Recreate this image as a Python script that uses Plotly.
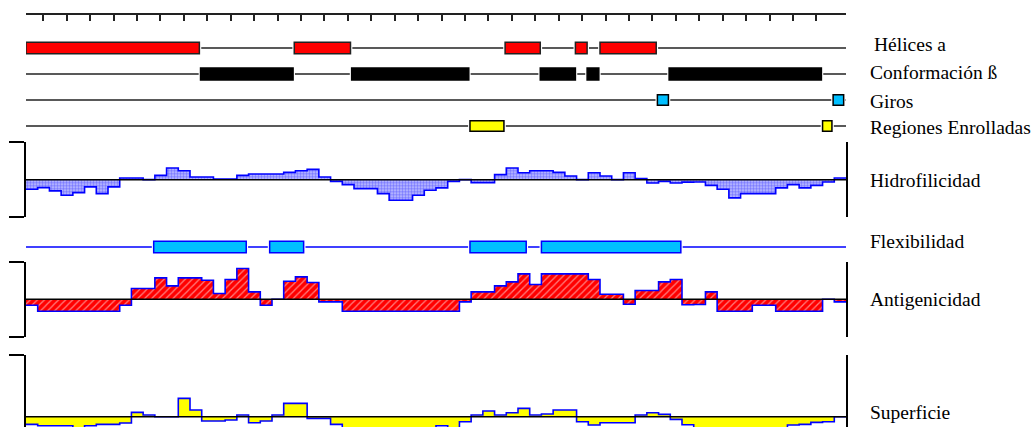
import plotly.graph_objects as go
import numpy as np

# ---------------- data (residue units, 0..350; profiles in 5-residue bins) -------------
LENGTH = 350
BIN = 5

HELIX_START = [0, 114.5, 204.5, 234.5, 245]
HELIX_END = [74, 138.5, 219.5, 239.5, 269]

BETA_START = [74.5, 139, 219.5, 239.5, 274.5]
BETA_END = [114, 189, 234.5, 244.5, 339.5]

TURN_START = [269.5, 344.5]
TURN_END = [274.2, 349]

COIL_START = [189.5, 340]
COIL_END = [204, 344]

FLEX_START = [54.5, 104, 189.5, 220]
FLEX_END = [94, 118.5, 213.5, 279.5]

HYDRO = [-9.7, -8, -11.3, -15.7, -13, -7.3, -14, -7.3, 1.7, 1.7,
         0, 4.3, 11.7, 9, 2.7, 2.7, 0.7, 0.7, 4.3, 5.7,
         5.7, 5.7, 7.3, 9, 10.3, 2.7, -1.7, -5, -9, -9,
         -14, -20.7, -20.7, -15.7, -10.7, -8.3, -1.7, 0, -3, -3,
         5, 11.7, 7, 9, 9, 7.3, 3.7, 0, 7, 3.7,
         0, 7, 1, -3.3, -1.7, -3.3, -2.5, -2.3, -5.7, -9.7,
         -18.3, -14, -14, -14, -8.3, -5, -8.3, -5.7, -2.3, 1.7]

ANTIGEN = [-6, -12, -12, -12, -12, -12, -12, -12, -6, 10.7,
           10.7, 21.3, 13.3, 21.3, 21.3, 19, 5.7, 19.7, 30.7, 7.3,
           -6, 0, 18, 22.3, 16.7, -2.7, -2.7, -12, -12, -12,
           -12, -12, -12, -12, -12, -12, -12, -2.7, 7.3, 7.3,
           13.3, 17.3, 25.3, 14.7, 25.3, 25.3, 25.3, 25.3, 19.7, 5,
           5, -5, 8.7, 8.7, 17.3, 19.7, -5.5, -5.3, 7.3, -12,
           -12, -12, -6, -6, -12, -12, -12, -12, 0, -2.7]

SURFACE = [-7.7, -9, -9, -9, -12, -9, -7.7, -7.7, -6.3, 4.3,
           1.7, 0, 0, 18.3, 6.7, -4.3, -4.3, -3.3, 1.7, -6,
           -4.3, 1.7, 13.3, 13.3, -1.7, -1.7, -7.7, -11, -15, -15,
           -15, -15, -15, -15, -15, -9, -12, -5, 1.7, 5.7,
           1.7, 4, 8.3, 1.7, 2.7, 6.7, 6.7, -5, -8.3, -6,
           -6, -6, 1.7, 4, 2.3, -2.7, -8, -12, -12, -12,
           -12, -12, -12, -12, -12, -8.3, -7.7, -5.7, -5, 0]

LABELS = ["Hélices a", "Conformación ß", "Giros", "Regiones Enrolladas",
          "Hidrofilicidad", "Flexibilidad", "Antigenicidad", "Superficie"]

# ---------------- layout helpers ----------------
W, H = 1035, 427
def py(px):
    return 1 - px / H

FONT = "Liberation Serif, Times New Roman, serif"
BLUE = "#0000ff"
CYAN = "#00bfff"

fig = go.Figure()

def gap_line(starts, ends, pad=0.8):
    xs = []
    cur = 0
    for s, e in sorted(zip(starts, ends)):
        if s - pad > cur:
            xs += [cur, s - pad, None]
        cur = e + pad
    if cur < LENGTH:
        xs += [cur, LENGTH]
    return xs

tracks = [
    (HELIX_START, HELIX_END, "#ff0000", "#222222", 0.44),
    (BETA_START, BETA_END, "#000000", "#000000", 0.46),
    (TURN_START, TURN_END, CYAN, "#000000", 0.40),
    (COIL_START, COIL_END, "#ffff00", "#000000", 0.41),
]
for i, (st, en, col, lc, w) in enumerate(tracks):
    xs = gap_line(st, en)
    fig.add_trace(go.Scatter(x=xs, y=[None if v is None else i for v in xs], mode="lines",
                             line=dict(color="#222222", width=1.5), xaxis="x", yaxis="y",
                             hoverinfo="skip", showlegend=False))
    fig.add_trace(go.Bar(x=[e - s for s, e in zip(st, en)], base=st, y=[i] * len(st),
                         orientation="h", width=w, marker=dict(color=col, line=dict(color=lc, width=1.5)),
                         xaxis="x", yaxis="y", showlegend=False))

# flexibility track
xs = gap_line(FLEX_START, FLEX_END)
fig.add_trace(go.Scatter(x=xs, y=[None if v is None else 0 for v in xs], mode="lines",
                         line=dict(color=BLUE, width=1.5), xaxis="x", yaxis="y3",
                         hoverinfo="skip", showlegend=False))
fig.add_trace(go.Bar(x=[e - s for s, e in zip(FLEX_START, FLEX_END)], base=FLEX_START,
                     y=[0] * len(FLEX_START), orientation="h", width=0.44,
                     marker=dict(color=CYAN, line=dict(color=BLUE, width=1.5)),
                     xaxis="x", yaxis="y3", showlegend=False))

edges = list(np.arange(len(HYDRO) + 1) * BIN)

def profile(vals, yaxis, fill_kw):
    fig.add_trace(go.Scatter(x=edges, y=list(vals) + [vals[-1]], mode="lines",
                             line=dict(color=BLUE, width=1.6, shape="hv"), fill="tozeroy",
                             xaxis="x", yaxis=yaxis, showlegend=False, **fill_kw))
    fig.add_trace(go.Scatter(x=[0, LENGTH], y=[0, 0], mode="lines",
                             line=dict(color="#000000", width=1.5), xaxis="x", yaxis=yaxis,
                             showlegend=False))

profile(HYDRO, "y2", dict(fillcolor="#b0b0ff",
                          fillpattern=dict(shape=".", bgcolor="#c4c4ff", fgcolor="#2a2aff",
                                           size=3, solidity=0.55)))
profile(ANTIGEN, "y4", dict(fillcolor="#ff0000",
                            fillpattern=dict(shape="/", bgcolor="#ff0000", fgcolor="#ffffff",
                                             size=5, solidity=0.25)))
profile(SURFACE, "y5", dict(fillcolor="#ffff00"))

XDOM = [26 / W, 846 / W]
ticks = [0] + list(np.arange(7.4, 341, 10)) + [LENGTH]

def panel_axis(top_px, bot_px, rng, tickvals):
    return dict(domain=[py(bot_px), py(top_px)], range=rng, anchor="x",
                showline=True, linecolor="#000000", linewidth=1.5, mirror=True,
                ticks="outside", tickvals=tickvals, ticklen=15, tickwidth=1.5,
                tickcolor="#000000", showticklabels=False, showgrid=False, zeroline=False,
                fixedrange=True)

fig.update_layout(
    width=W, height=H, margin=dict(l=0, r=0, t=0, b=0),
    paper_bgcolor="white", plot_bgcolor="rgba(0,0,0,0)",
    barmode="overlay", showlegend=False,
    xaxis=dict(domain=XDOM, range=[0, LENGTH], anchor="free", position=py(14), side="top",
               showline=True, linecolor="#222222", linewidth=1.5, ticks="inside",
               tickvals=ticks, ticklen=6, tickwidth=1.5, tickcolor="#222222",
               showticklabels=False, showgrid=False, zeroline=False),
    yaxis=dict(domain=[py(139), py(35)], range=[3.5, -0.5], visible=False, anchor="x"),
    yaxis2=panel_axis(142.3, 217, [-37.5, 37.5], [-37.5, 37.5]),
    yaxis3=dict(domain=[py(260), py(234)], range=[-0.5, 0.5], visible=False, anchor="x"),
    yaxis4=panel_axis(261.7, 336.7, [-37.5, 37.5], [-37.5, 37.5]),
    yaxis5=panel_axis(355, 427, [-10.3, 61.7], [61.7]),
)

label_pos = [(872, 44), (868, 73), (868, 101), (868, 127),
             (868, 180), (868, 242), (868, 299), (868, 412)]
for text, (xp, yp) in zip(LABELS, label_pos):
    fig.add_annotation(x=xp / W, y=py(yp), xref="paper", yref="paper", text=text,
                       showarrow=False, xanchor="left", yanchor="middle",
                       font=dict(family=FONT, size=19.5, color="#000000"))

fig.write_html("out.html")
